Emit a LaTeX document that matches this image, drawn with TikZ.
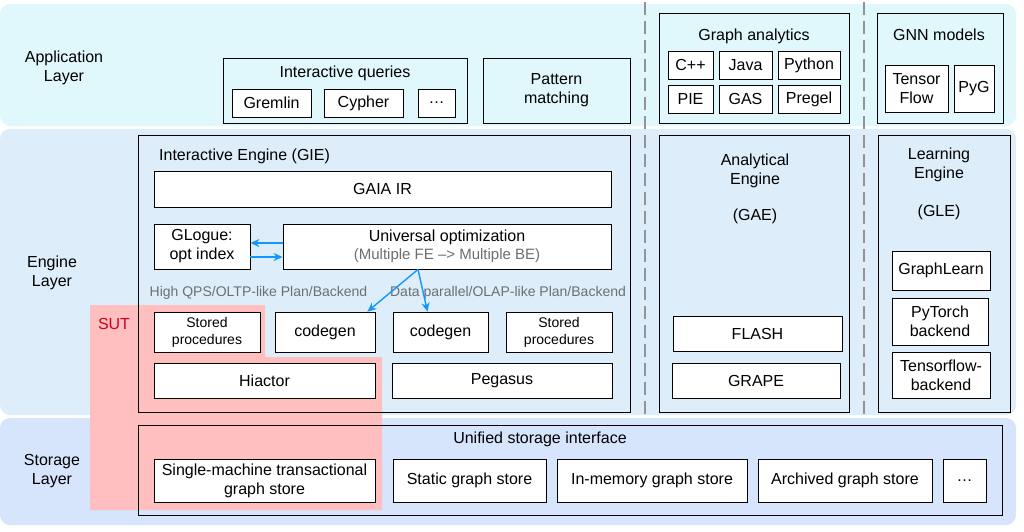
\documentclass[tikz,border=0pt]{standalone}
\usepackage{fontspec}
\setmainfont{Liberation Sans}
\usetikzlibrary{arrows.meta}
\definecolor{applayer}{RGB}{224,247,251}
\definecolor{enginelayer}{RGB}{221,238,250}
\definecolor{storagelayer}{RGB}{214,228,252}
\definecolor{sutpink}{RGB}{255,191,191}
\definecolor{flowblue}{RGB}{20,150,255}
\definecolor{notegray}{RGB}{110,110,110}
\definecolor{sutred}{RGB}{204,0,34}
\begin{document}
\begin{tikzpicture}[x=1pt,y=-1pt,
  font=\fontsize{16}{19}\selectfont,
  box/.style={draw, line width=0.8pt, fill=white, inner sep=0pt, align=center},
  frame/.style={draw, line width=0.8pt, inner sep=0pt},
  title/.style={inner sep=0pt, align=center},
  small/.style={font=\fontsize{14}{17}\selectfont},
  note/.style={text=notegray, inner sep=0pt, font=\fontsize{14}{17}\selectfont},
  flow/.style={draw=flowblue, line width=1.4pt, -{Stealth[length=9pt,width=8pt]}},
  sep/.style={draw=gray!85, line width=1.5pt, dash pattern=on 13pt off 6pt}]
\useasboundingbox (0,0) rectangle (1024,531);

%layers
\fill[applayer, rounded corners=10pt] (0,4) rectangle (1016,126);
\fill[enginelayer, rounded corners=10pt] (0,129) rectangle (1016,415);
\fill[storagelayer, rounded corners=10pt] (0,418) rectangle (1016,525);
\node[title] (applbl) at (64,68) {Application\\Layer};
\node[title] (englbl) at (52,273) {Engine\\Layer};
\node[title] (stolbl) at (52,471) {Storage\\Layer};

%SUT
\fill[sutpink] (90,305) -- (265,305) -- (265,357) -- (382,357) -- (382,510) -- (90,510) -- cycle;
\node[title, text=sutred] (sut) at (114,324) {SUT};

%separators
\coordinate (S1top) at (645,2);
\coordinate (S1bot) at (645,415);
\coordinate (S2top) at (864,2);
\coordinate (S2bot) at (864,415);
\draw[sep] (S1top) -- (S1bot);
\draw[sep] (S2top) -- (S2bot);

%application layer
\node[frame, minimum width=244, minimum height=65] (iq) at (345,90.5) {};
\node[title] (iqt) at (345,73) {Interactive queries};
\node[box, minimum width=79, minimum height=28] (gremlin) at (271.5,103) {Gremlin};
\node[box, minimum width=79, minimum height=28] (cypher) at (363.5,103) {Cypher};
\node[box, minimum width=37, minimum height=28] (dotsA) at (436.5,103) {\dots};
\node[box, fill=none, minimum width=147, minimum height=65] (pattern) at (556.5,90.5) {Pattern\\matching};

\node[frame, minimum width=190, minimum height=110] (ga) at (754,68) {};
\node[title] (gat) at (754,36) {Graph analytics};
\node[box, minimum width=45, minimum height=28] (cpp) at (690.5,65) {C++};
\node[box, minimum width=53, minimum height=28] (java) at (745.5,65) {Java};
\node[box, minimum width=62, minimum height=28] (python) at (809,65) {Python};
\node[box, minimum width=45, minimum height=28] (pie) at (690.5,99) {PIE};
\node[box, minimum width=53, minimum height=28] (gas) at (745.5,99) {GAS};
\node[box, minimum width=62, minimum height=28] (pregel) at (809,99) {Pregel};

\node[frame, minimum width=126, minimum height=110] (gnn) at (940,68) {};
\node[title] (gnnt) at (939,35) {GNN models};
\node[box, minimum width=63, minimum height=47] (tf) at (916.5,88.5) {Tensor\\Flow};
\node[box, minimum width=40, minimum height=47] (pyg) at (974,88.5) {PyG};

%engine layer
\node[frame, minimum width=492, minimum height=277] (gie) at (384,273.5) {};
\node[title, anchor=west] (giet) at (159,156) {Interactive Engine (GIE)};
\node[box, minimum width=457, minimum height=36] (gaia) at (382.5,189) {GAIA IR};
\node[box, minimum width=96, minimum height=45] (glogue) at (202,246.5) {GLogue:\\opt index};
\node[box, minimum width=328, minimum height=45] (uni) at (447,246.5) {};
\node[title] (unit) at (447,237) {Universal optimization};
\node[note, font=\fontsize{15}{18}\selectfont] (unin) at (447,256) {(Multiple FE –> Multiple BE)};
\node[note] (oltp) at (258.5,293) {High QPS/OLTP-like Plan/Backend};
\node[note] (olap) at (508,293) {Data parallel/OLAP-like Plan/Backend};
\node[box, small, minimum width=106, minimum height=40] (spA) at (207,332) {Stored\\procedures};
\node[box, minimum width=100, minimum height=40] (cgA) at (325,332) {codegen};
\node[box, minimum width=95, minimum height=40] (cgB) at (440.5,332) {codegen};
\node[box, small, minimum width=106, minimum height=40] (spB) at (559,332) {Stored\\procedures};
\node[box, minimum width=221, minimum height=35] (hiactor) at (264.5,380.5) {Hiactor};
\node[box, minimum width=220, minimum height=35] (pegasus) at (502,380.5) {Pegasus};

\draw[flow] ([yshift=3.5pt]uni.west) -- ([yshift=3.5pt]glogue.east);
\draw[flow] ([yshift=-10.5pt]glogue.east) -- ([yshift=-10.5pt]uni.west);
\coordinate (split) at ([xshift=-29pt]uni.south);
\draw[flow] (split) -- ([xshift=-8pt]cgA.north east);
\draw[flow] (split) -- ([xshift=-13pt]cgB.north);

\node[frame, minimum width=190, minimum height=277] (gae) at (754,273.5) {};
\node[title] (gaet) at (755,171) {Analytical\\Engine};
\node[title] (gaen) at (755,216) {(GAE)};
\node[box, minimum width=169, minimum height=35] (flash) at (757.5,333.5) {FLASH};
\node[box, minimum width=168, minimum height=35] (grape) at (756,380.5) {GRAPE};

\node[frame, minimum width=132, minimum height=277] (gle) at (944,273.5) {};
\node[title] (glet) at (939,165) {Learning\\Engine};
\node[title] (glen) at (939,212) {(GLE)};
\node[box, minimum width=98, minimum height=39] (glearn) at (941,270.5) {GraphLearn};
\node[box, minimum width=96, minimum height=47] (pyt) at (940,321.5) {PyTorch\\backend};
\node[box, minimum width=98, minimum height=46] (tfb) at (941,375) {Tensorflow-\\backend};

%storage layer
\node[frame, minimum width=864, minimum height=90] (usi) at (570,470) {};
\node[title] (usit) at (540,439) {Unified storage interface};
\node[box, minimum width=221, minimum height=43] (single) at (264.5,480.5) {Single-machine transactional\\graph store};
\node[box, minimum width=153, minimum height=43] (static) at (469.5,480.5) {Static graph store};
\node[box, minimum width=190, minimum height=43] (inmem) at (652,480.5) {In-memory graph store};
\node[box, minimum width=174, minimum height=43] (archived) at (845,480.5) {Archived graph store};
\node[box, minimum width=43, minimum height=43] (dotsB) at (964.5,480.5) {\dots};
\end{tikzpicture}
\end{document}
